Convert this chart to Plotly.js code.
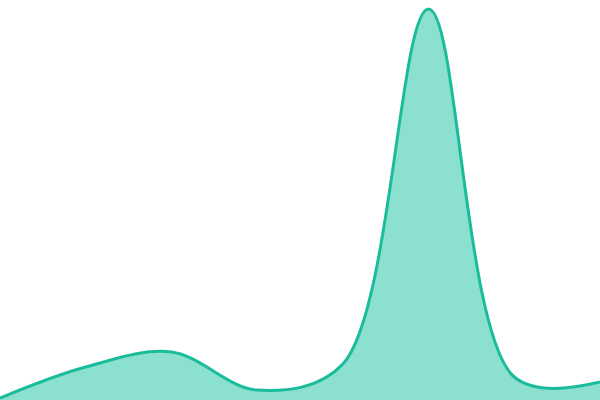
<!DOCTYPE html>
<html>
<head>
<meta charset="utf-8">
<script src="https://cdn.plot.ly/plotly-3.0.1.min.js"></script>
<style>
  html, body { margin: 0; padding: 0; background: #fff; }
  #chart { width: 600px; height: 400px; }
</style>
</head>
<body>
<div id="chart"></div>
<script>
const steps = [0, 1, 2, 3, 4, 5, 6, 7];
const values = [2, 33, 48, 10, 36, 391, 23, 18];

const trace = {
  x: steps,
  y: values,
  type: "scatter",
  mode: "lines",
  fill: "tozeroy",
  fillcolor: "#8be0cf",
  line: {
    color: "#1abc9c",
    width: 3,
    shape: "spline",
    smoothing: 1
  },
  hoverinfo: "skip"
};

const layout = {
  width: 600,
  height: 400,
  margin: {l: 0, r: 0, t: 0, b: 0},
  paper_bgcolor: "#fff",
  plot_bgcolor: "#fff",
  showlegend: false,
  xaxis: {visible: false, range: [0, 7], fixedrange: true},
  yaxis: {visible: false, range: [0, 400], fixedrange: true}
};

Plotly.newPlot("chart", [trace], layout, {displayModeBar: false, staticPlot: true});
</script>
</body>
</html>
